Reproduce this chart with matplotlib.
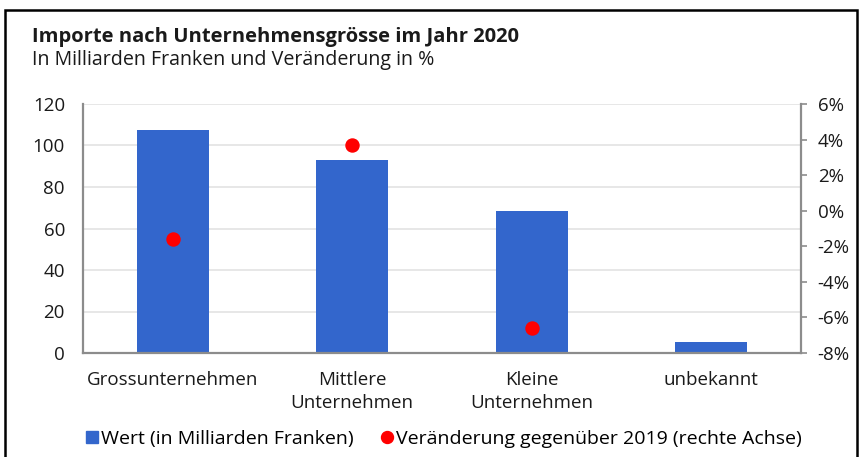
import matplotlib.pyplot as plt
import matplotlib.patches as mpatches
from matplotlib.lines import Line2D
import numpy as np

plt.rcParams['font.family'] = ['Open Sans', 'DejaVu Sans']

# Daten
kategorien = ['Grossunternehmen', 'Mittlere\nUnternehmen', 'Kleine\nUnternehmen', 'unbekannt']
wert = [107.5, 93.0, 68.4, 5.2]
veraenderung = [-1.6, 3.7, -6.6]
prozent_ticks = list(range(-8, 7, 2))

blau = '#3366CC'
rot = '#FF0000'
grau = '#8c8c8c'
text_farbe = '#1a1a1a'

fig = plt.figure(figsize=(8.6, 4.57), dpi=100)
ax = fig.add_axes([83 / 860, 1 - 353 / 457, (801 - 83) / 860, (353 - 104) / 457])

x = np.arange(len(kategorien))
ax.bar(x, wert, width=0.4, color=blau, zorder=2)
ax.set_xlim(-0.5, 3.5)
ax.set_ylim(0, 120)
ax.set_yticks(range(0, 121, 20))
ax.grid(axis='y', color='#e3e3e3', linewidth=1.2, zorder=0)
ax.set_xticks(x)
ax.set_xticklabels(kategorien, fontsize=13.5, color=text_farbe, linespacing=1.32)
ax.tick_params(axis='x', length=0, pad=13)
ax.tick_params(axis='y', length=0, pad=13, labelsize=13.5, labelcolor=text_farbe)
ax.spines['top'].set_visible(False)
ax.spines['right'].set_visible(False)
ax.spines['left'].set_color(grau)
ax.spines['bottom'].set_color(grau)
ax.spines['left'].set_linewidth(1.6)
ax.spines['bottom'].set_linewidth(1.6)

ax2 = ax.twinx()
ax2.scatter(x[:len(veraenderung)], veraenderung, s=88, color=rot, zorder=3)
ax2.set_ylim(-8, 6)
ax2.set_yticks(prozent_ticks)
ax2.set_yticklabels([f'{v}%' for v in prozent_ticks])
ax2.tick_params(axis='y', length=4, width=1.2, color=grau, pad=8, labelsize=13.5, labelcolor=text_farbe)
for s in ['top', 'left', 'bottom']:
    ax2.spines[s].set_visible(False)
ax2.spines['right'].set_color(grau)
ax2.spines['right'].set_linewidth(1.6)

# Titel
fig.text(32 / 860, 1 - 37 / 457, 'Importe nach Unternehmensgrösse im Jahr 2020',
         fontsize=14.5, fontweight='bold', va='center', ha='left', color=text_farbe)
fig.text(32 / 860, 1 - 60 / 457, 'In Milliarden Franken und Veränderung in %',
         fontsize=14.1, va='center', ha='left', color=text_farbe)

# Legende
handles = [
    Line2D([], [], marker='s', linestyle='none', color=blau, markersize=8.6),
    Line2D([], [], marker='o', linestyle='none', color=rot, markersize=8.6),
]
fig.legend(handles, ['Wert (in Milliarden Franken)', 'Veränderung gegenüber 2019 (rechte Achse)'],
           loc='center', bbox_to_anchor=(444 / 860, 1 - 439 / 457), ncol=2, frameon=False,
           fontsize=14, handletextpad=0.15, columnspacing=1.45, handlelength=0.6,
           borderaxespad=0, borderpad=0)

# Rahmen
rahmen = mpatches.Rectangle((5 / 860, -0.05), 852 / 860, 1.05 - 10 / 457, transform=fig.transFigure,
                            fill=False, edgecolor='black', linewidth=1.8)
fig.patches.append(rahmen)

fig.savefig('out.png', dpi=100)
